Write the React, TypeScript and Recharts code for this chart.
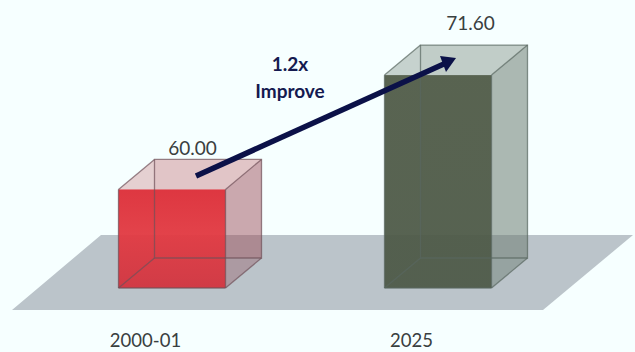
import React from "react";
import { BarChart, Bar, XAxis, YAxis, LabelList, Customized } from "recharts";

const periods = ["2000-01", "2025"];
const scores = [60.0, 71.6];
const annotationLines = ["1.2x", "Improve"];

const rows = periods.map((period, i) => ({ period, score: scores[i] }));

// Depth of the drawn boxes
const DX = 36;
const DY = 30;

const palette = [
  { front: "url(#redFront)", wall: "#b9565f", side: "#8f4a55", edge: "#6f5058", topAlpha: 0.16, sideAlpha: 0.34, frontAlpha: 0.95 },
  { front: "url(#oliveFront)", wall: "#8c9c92", side: "#63756a", edge: "#59675f", topAlpha: 0.36, sideAlpha: 0.42, frontAlpha: 0.93 },
];

// Where each value caption sits relative to the bar's top-left corner
const captionOffset = [
  { dx: 74, dy: -42 },
  { dx: 86, dy: -53 },
];

const FONT = "Lato, Carlito, sans-serif";

function Floor() {
  return <polygon points="12,310 101,235 633,235 543,310" fill="#bbc4ca" />;
}

function Box(props: any) {
  const { x, y, width: w, height: h, index } = props;
  const c = palette[index];
  const r = x + w;
  const b = y + h;
  const poly = (pts: number[][]) => pts.map((p) => p.join(",")).join(" ");
  const back = [[x + DX, y - DY], [r + DX, y - DY], [r + DX, b - DY], [x + DX, b - DY]];
  const left = [[x, y], [x + DX, y - DY], [x + DX, b - DY], [x, b]];
  const top = [[x, y], [r, y], [r + DX, y - DY], [x + DX, y - DY]];
  const right = [[r, y], [r + DX, y - DY], [r + DX, b - DY], [r, b]];
  return (
    <g>
      <polygon points={poly(back)} fill={c.wall} fillOpacity={0.22} />
      <polygon points={poly(left)} fill={c.wall} fillOpacity={0.14} />
      <polygon points={poly(top)} fill={c.wall} fillOpacity={c.topAlpha} />
      <polygon points={poly(right)} fill={c.side} fillOpacity={c.sideAlpha} />
      <rect x={x} y={y} width={w} height={h} fill={c.front} fillOpacity={c.frontAlpha} />
      <g fill="none" stroke={c.edge} strokeWidth={1.3} strokeOpacity={0.7}>
        <polygon points={poly(back)} />
        <line x1={x} y1={y} x2={x + DX} y2={y - DY} />
        <line x1={r} y1={y} x2={r + DX} y2={y - DY} />
        <line x1={x} y1={b} x2={x + DX} y2={b - DY} />
        <line x1={r} y1={b} x2={r + DX} y2={b - DY} />
        <line x1={r} y1={y} x2={r} y2={b} />
        <line x1={x} y1={y} x2={x} y2={b} />
        <line x1={x} y1={b} x2={r} y2={b} />
      </g>
    </g>
  );
}

function ScoreCaption(props: any) {
  const { x, y, value, index } = props;
  const o = captionOffset[index];
  return (
    <text x={x + o.dx} y={y + o.dy} textAnchor="middle" dominantBaseline="central" fontFamily={FONT} fontSize={19} fill="#39403f">
      {Number(value).toFixed(2)}
    </text>
  );
}

function PeriodTick(props: any) {
  const { x, y, payload } = props;
  return (
    <text x={x - 26} y={y} textAnchor="middle" dominantBaseline="central" fontFamily={FONT} fontSize={18.5} fill="#39403f">
      {payload.value}
    </text>
  );
}

// Growth arrow running between the two boxes, with its caption
function GrowthArrow() {
  return (
    <svg width={635} height={352} style={{ position: "absolute", left: 0, top: 0, pointerEvents: "none" }}>
      <line x1={196} y1={176} x2={446} y2={63} stroke="#0b1148" strokeWidth={5.5} />
      <polygon points="456,58 440,56 446,72" fill="#0b1148" />
      <text x={290} y={63} textAnchor="middle" dominantBaseline="central" fontFamily={FONT} fontWeight={700} fontSize={19} fill="#141a50">
        {annotationLines[0]}
      </text>
      <text x={290} y={90} textAnchor="middle" dominantBaseline="central" fontFamily={FONT} fontWeight={700} fontSize={19} fill="#141a50">
        {annotationLines[1]}
      </text>
    </svg>
  );
}

export default function App() {
  return (
    <div style={{ position: "absolute", left: 0, top: 0, width: 635, height: 352, background: "#f6ffff", overflow: "hidden" }}>
      <BarChart
        width={635}
        height={352}
        data={rows}
        margin={{ top: 12, right: 64.5, bottom: 34, left: 38.5 }}
        barCategoryGap={0}
      >
        <defs>
          <linearGradient id="redFront" x1="0" y1="0" x2="0" y2="1">
            <stop offset="0" stopColor="#dd2e38" />
            <stop offset="0.45" stopColor="#e23a42" />
            <stop offset="1" stopColor="#d2343f" />
          </linearGradient>
          <linearGradient id="oliveFront" x1="0" y1="0" x2="0" y2="1">
            <stop offset="0" stopColor="#4e5945" />
            <stop offset="1" stopColor="#4c5846" />
          </linearGradient>
        </defs>
        <Customized component={Floor} />
        <XAxis dataKey="period" axisLine={false} tickLine={false} tick={<PeriodTick />} tickMargin={46} height={30} />
        <YAxis hide domain={[50, 78]} />
        <Bar dataKey="score" barSize={107} shape={<Box />} isAnimationActive={false}>
          <LabelList dataKey="score" content={<ScoreCaption />} />
        </Bar>
      </BarChart>
      <GrowthArrow />
    </div>
  );
}
